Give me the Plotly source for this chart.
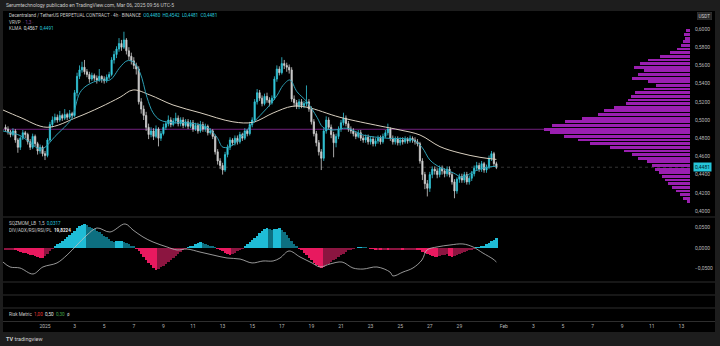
import plotly.graph_objects as go

W, H = 720, 346
def px(x): return x / W
def py(y): return 1 - y / H

# ---------------- data (4h candles, MANA/USDT perp) ----------------
first_open = 0.492
closes = [
    0.490, 0.487, 0.484, 0.488, 0.478, 0.470, 0.480, 0.486, 0.484, 0.476,
    0.470, 0.482, 0.474, 0.466, 0.470, 0.463, 0.461, 0.478, 0.495, 0.500,
    0.503, 0.500, 0.505, 0.502, 0.506, 0.503, 0.507, 0.505, 0.530, 0.548,
    0.555, 0.558, 0.553, 0.550, 0.545, 0.549, 0.546, 0.544, 0.548, 0.545,
    0.543, 0.547, 0.550, 0.566, 0.572, 0.578, 0.584, 0.580, 0.588, 0.576,
    0.570, 0.565, 0.560, 0.556, 0.520, 0.512, 0.505, 0.492, 0.484, 0.488,
    0.482, 0.490, 0.480, 0.485, 0.492, 0.496, 0.500, 0.495, 0.499, 0.502,
    0.496, 0.500, 0.494, 0.498, 0.493, 0.497, 0.490, 0.494, 0.488, 0.495,
    0.490, 0.493, 0.486, 0.488, 0.482, 0.465, 0.455, 0.450, 0.445, 0.462,
    0.470, 0.478, 0.475, 0.480, 0.476, 0.484, 0.480, 0.488, 0.485, 0.495,
    0.500, 0.520, 0.530, 0.524, 0.518, 0.526, 0.522, 0.519, 0.524, 0.545,
    0.556, 0.552, 0.562, 0.560, 0.558, 0.555, 0.523, 0.519, 0.515, 0.520,
    0.516, 0.518, 0.520, 0.512, 0.498, 0.485, 0.475, 0.465, 0.458, 0.488,
    0.500, 0.492, 0.484, 0.475, 0.482, 0.490, 0.497, 0.502, 0.496, 0.490,
    0.488, 0.485, 0.482, 0.486, 0.480, 0.478, 0.481, 0.476, 0.479, 0.474,
    0.477, 0.480, 0.476, 0.482, 0.486, 0.490, 0.480, 0.476, 0.479, 0.475,
    0.478, 0.476, 0.479, 0.477, 0.480, 0.478, 0.476, 0.474, 0.455, 0.440,
    0.430, 0.425, 0.440, 0.446, 0.444, 0.440, 0.447, 0.444, 0.441, 0.446,
    0.440, 0.432, 0.422, 0.435, 0.438, 0.434, 0.440, 0.432, 0.436, 0.441,
    0.447, 0.450, 0.446, 0.452, 0.445, 0.448, 0.458, 0.463, 0.452, 0.4481,
]
highs = [
    0.495, 0.493, 0.489, 0.491, 0.490, 0.480, 0.482, 0.489, 0.488, 0.486,
    0.479, 0.485, 0.484, 0.476, 0.473, 0.472, 0.466, 0.480, 0.498, 0.504,
    0.507, 0.506, 0.510, 0.507, 0.512, 0.508, 0.511, 0.509, 0.533, 0.552,
    0.560, 0.564, 0.566, 0.556, 0.553, 0.552, 0.551, 0.549, 0.556, 0.549,
    0.548, 0.550, 0.553, 0.569, 0.576, 0.581, 0.590, 0.588, 0.597, 0.590,
    0.580, 0.574, 0.569, 0.563, 0.559, 0.524, 0.516, 0.509, 0.496, 0.492,
    0.491, 0.494, 0.492, 0.488, 0.496, 0.499, 0.505, 0.503, 0.502, 0.508,
    0.505, 0.503, 0.503, 0.501, 0.501, 0.500, 0.500, 0.497, 0.497, 0.499,
    0.498, 0.496, 0.495, 0.491, 0.490, 0.484, 0.468, 0.458, 0.453, 0.465,
    0.473, 0.481, 0.480, 0.483, 0.483, 0.487, 0.486, 0.491, 0.490, 0.498,
    0.503, 0.523, 0.534, 0.533, 0.527, 0.529, 0.530, 0.525, 0.527, 0.548,
    0.560, 0.559, 0.569, 0.566, 0.563, 0.561, 0.558, 0.527, 0.522, 0.523,
    0.523, 0.521, 0.538, 0.523, 0.515, 0.501, 0.488, 0.478, 0.468, 0.491,
    0.504, 0.503, 0.495, 0.487, 0.485, 0.493, 0.500, 0.508, 0.505, 0.499,
    0.493, 0.491, 0.488, 0.489, 0.489, 0.483, 0.484, 0.484, 0.482, 0.482,
    0.480, 0.483, 0.483, 0.485, 0.489, 0.496, 0.492, 0.483, 0.482, 0.482,
    0.481, 0.481, 0.482, 0.481, 0.483, 0.482, 0.481, 0.479, 0.476, 0.458,
    0.443, 0.434, 0.443, 0.449, 0.449, 0.447, 0.450, 0.450, 0.447, 0.449,
    0.449, 0.443, 0.435, 0.437, 0.441, 0.441, 0.443, 0.443, 0.439, 0.444,
    0.450, 0.454, 0.453, 0.455, 0.454, 0.451, 0.461, 0.466, 0.465, 0.4542,
]
lows = [
    0.487, 0.484, 0.481, 0.482, 0.475, 0.464, 0.467, 0.478, 0.480, 0.473,
    0.467, 0.468, 0.471, 0.462, 0.463, 0.460, 0.456, 0.459, 0.476, 0.492,
    0.497, 0.497, 0.498, 0.499, 0.500, 0.500, 0.501, 0.502, 0.503, 0.526,
    0.545, 0.552, 0.550, 0.547, 0.541, 0.543, 0.543, 0.540, 0.542, 0.541,
    0.540, 0.541, 0.545, 0.548, 0.562, 0.568, 0.575, 0.576, 0.578, 0.572,
    0.566, 0.561, 0.556, 0.550, 0.517, 0.507, 0.500, 0.488, 0.479, 0.481,
    0.478, 0.480, 0.471, 0.477, 0.483, 0.489, 0.493, 0.492, 0.493, 0.496,
    0.493, 0.493, 0.491, 0.492, 0.490, 0.491, 0.487, 0.488, 0.485, 0.486,
    0.487, 0.487, 0.483, 0.484, 0.479, 0.462, 0.451, 0.446, 0.440, 0.443,
    0.459, 0.467, 0.472, 0.472, 0.473, 0.474, 0.477, 0.478, 0.482, 0.483,
    0.492, 0.497, 0.517, 0.521, 0.515, 0.516, 0.519, 0.515, 0.517, 0.522,
    0.542, 0.549, 0.550, 0.556, 0.553, 0.551, 0.520, 0.515, 0.512, 0.512,
    0.513, 0.513, 0.515, 0.509, 0.495, 0.482, 0.471, 0.461, 0.445, 0.455,
    0.485, 0.489, 0.480, 0.459, 0.470, 0.479, 0.487, 0.494, 0.493, 0.487,
    0.485, 0.482, 0.479, 0.480, 0.477, 0.475, 0.475, 0.473, 0.473, 0.471,
    0.471, 0.474, 0.473, 0.474, 0.480, 0.483, 0.477, 0.473, 0.473, 0.472,
    0.472, 0.473, 0.474, 0.474, 0.475, 0.475, 0.473, 0.471, 0.452, 0.434,
    0.424, 0.416, 0.421, 0.436, 0.440, 0.436, 0.437, 0.440, 0.437, 0.438,
    0.437, 0.429, 0.414, 0.419, 0.431, 0.431, 0.431, 0.429, 0.429, 0.433,
    0.438, 0.444, 0.443, 0.443, 0.442, 0.442, 0.446, 0.455, 0.449, 0.446,
]
assert len(closes) == len(highs) == len(lows) == 200
opens = [first_open] + closes[:-1]
highs = [max(h, o, c) for h, o, c in zip(highs, opens, closes)]
lows = [min(l, o, c) for l, o, c in zip(lows, opens, closes)]
# time in days since 2025-01-01 00:00 (candle 16 opens Jan 1)
t = [(i - 16) / 6 for i in range(len(closes))]

# moving averages (KLMA fast / slow)
ma_fast_t = [-2.84, -2.36, -1.69, -0.34, 0.0, 0.68, 1.49, 1.82, 2.36, 2.84, 3.72, 4.39, 5.07,
             5.54, 5.95, 6.42, 6.89, 7.30, 7.77, 8.65, 9.59, 10.95, 11.62, 12.03, 12.70, 13.18,
             14.05, 15.0, 15.68, 16.08, 16.55, 17.03, 17.70, 18.38, 18.78, 19.46, 20.41, 21.49,
             23.11, 24.86, 25.47, 26.01, 26.69, 27.57, 28.24, 28.92, 29.86, 30.5]
ma_fast_v = [0.488, 0.486, 0.483, 0.468, 0.470, 0.482, 0.495, 0.502, 0.530, 0.538, 0.544, 0.544,
             0.558, 0.565, 0.564, 0.552, 0.525, 0.508, 0.500, 0.497, 0.497, 0.492, 0.481, 0.470,
             0.4725, 0.480, 0.4967, 0.513, 0.527, 0.538, 0.544, 0.531, 0.520, 0.503, 0.492, 0.489,
             0.491, 0.4835, 0.480, 0.478, 0.470, 0.456, 0.448, 0.442, 0.437, 0.443, 0.448, 0.4491]
ma_slow_t = [-2.84, -1.69, 0.14, 2.16, 3.72, 5.07, 5.95, 7.09, 8.65, 10.47, 12.70, 14.05, 15.41,
             16.69, 17.70, 19.93, 22.64, 23.99, 25.34, 26.69, 28.04, 29.39, 30.5]
ma_slow_v = [0.511, 0.503, 0.492, 0.503, 0.514, 0.525, 0.533, 0.5275, 0.5165, 0.508, 0.498,
             0.4975, 0.5077, 0.515, 0.514, 0.503, 0.4934, 0.489, 0.4835, 0.4707, 0.4637, 0.459, 0.4567]

# visible range volume profile (price bin centre, relative volume)
vp_price = [0.598, 0.594, 0.590, 0.586, 0.582, 0.578, 0.574, 0.570, 0.566, 0.562, 0.558, 0.554,
            0.550, 0.546, 0.542, 0.538, 0.534, 0.530, 0.526, 0.522, 0.518, 0.514, 0.510, 0.506,
            0.502, 0.498, 0.494, 0.490, 0.486, 0.482, 0.478, 0.474, 0.470, 0.466, 0.462, 0.458,
            0.454, 0.450, 0.446, 0.442, 0.438, 0.434, 0.430, 0.426, 0.422, 0.418, 0.414, 0.410]
vp_volume = [4, 6, 5, 7, 9, 13, 20, 30, 42, 50, 56, 46, 52, 58, 42, 34, 46, 55, 59, 62, 64, 76,
             86, 92, 108, 125, 138, 146, 140, 126, 112, 100, 80, 66, 58, 52, 43, 38, 35, 31, 28,
             25, 22, 18, 14, 10, 7, 3]
poc_price = 0.4898
last_price = 0.4481

# squeeze momentum histogram (per candle)
sqz = [
    -0.006, -0.005, -0.004, -0.004, -0.006, -0.008, -0.010, -0.012, -0.013, -0.015,
    -0.017, -0.018, -0.020, -0.022, -0.024, -0.025, -0.020, -0.014, -0.007, -0.001,
    0.004, 0.009, 0.013, 0.017, 0.021, 0.026, 0.031, 0.036, 0.042, 0.048,
    0.053, 0.056, 0.058, 0.055, 0.052, 0.049, 0.046, 0.042, 0.038, 0.034,
    0.030, 0.026, 0.022, 0.018, 0.015, 0.016, 0.017, 0.018, 0.015, 0.012,
    0.009, 0.006, 0.003, -0.002, -0.008, -0.015, -0.022, -0.029, -0.036, -0.042,
    -0.048, -0.054, -0.051, -0.047, -0.043, -0.039, -0.034, -0.029, -0.024, -0.019,
    -0.014, -0.009, -0.005, -0.002, 0.001, 0.003, 0.006, 0.009, 0.012, 0.014,
    0.012, 0.010, 0.008, 0.006, 0.004, 0.001, -0.001, -0.004, -0.008, -0.012,
    -0.015, -0.017, -0.014, -0.011, -0.007, -0.004, -0.001, 0.004, 0.009, 0.014,
    0.019, 0.024, 0.030, 0.036, 0.042, 0.047, 0.050, 0.047, 0.045, 0.046,
    0.047, 0.048, 0.044, 0.038, 0.031, 0.024, 0.017, 0.010, 0.004, -0.001,
    -0.006, -0.012, -0.018, -0.024, -0.030, -0.036, -0.042, -0.046, -0.049, -0.046,
    -0.042, -0.038, -0.034, -0.030, -0.026, -0.022, -0.018, -0.014, -0.010, -0.006,
    -0.003, -0.001, 0.000, 0.001, 0.002, 0.002, 0.001, 0.000, -0.001, -0.002,
    -0.003, -0.003, -0.004, -0.004, -0.004, -0.005, -0.004, -0.004, -0.004, -0.004,
    -0.004, -0.005, -0.004, -0.004, -0.004, -0.003, -0.003, -0.004, -0.006, -0.009,
    -0.012, -0.015, -0.018, -0.020, -0.021, -0.022, -0.020, -0.018, -0.016, -0.015,
    -0.019, -0.022, -0.020, -0.017, -0.014, -0.011, -0.009, -0.007, -0.005, -0.003,
    -0.001, 0.001, 0.002, 0.004, 0.006, 0.009, 0.012, 0.016, 0.020, 0.024,
]
assert len(sqz) == 200

# DIV/ADX line
adx_t = [-2.84, -2.36, -1.69, -0.81, -0.14, 0.81, 1.49, 2.16, 2.84, 3.51, 4.39, 5.41, 5.95, 6.62,
         7.30, 8.24, 8.92, 9.59, 10.47, 11.35, 12.30, 13.18, 13.99, 14.73, 15.41, 15.88, 16.49,
         17.23, 18.04, 18.58, 19.26, 20.07, 20.81, 21.49, 22.43, 23.31, 23.51, 24.19, 24.86,
         25.47, 25.81, 26.49, 27.36, 28.24, 28.92, 29.59, 30.27, 30.5]
adx_v = [19.8, 16.0, 15.2, 10.6, 16.0, 19.1, 25.2, 32.9, 40.6, 46.0, 42.9, 49.1, 44.4, 39.1, 35.2,
         31.4, 29.1, 29.8, 27.5, 25.2, 22.9, 22.1, 19.1, 20.6, 20.6, 22.9, 28.3, 23.7, 19.1, 16.0,
         18.3, 19.8, 15.2, 14.4, 16.0, 12.1, 9.1, 12.1, 15.2, 21.4, 29.1, 31.4, 32.9, 33.7, 31.4,
         26.7, 22.1, 19.82]

date_tickvals = [0, 2, 4, 6, 8, 10, 12, 14, 16, 18, 20, 22, 24, 26, 28, 31, 33, 35, 37, 39, 41, 43]
date_ticktext = ["2025", "3", "5", "7", "9", "11", "13", "15", "17", "19", "21", "23", "25", "27",
                 "29", "Feb", "3", "5", "7", "9", "11", "13"]
price_ticks = [0.40, 0.42, 0.44, 0.46, 0.48, 0.50, 0.52, 0.54, 0.56, 0.58, 0.60]
sqz_ticks = [-0.05, 0.0, 0.05]

# ---------------- styling ----------------
UP = "#33c8da"
DOWN = "#cfcfcf"
FAST = "#2d9fb4"
SLOW = "#d8cfbf"
VP = "#9a1fb0"
TXT = "#b8b8b8"
FONT = "Roboto"

sqz_colors = []
for i, v in enumerate(sqz):
    prev = sqz[i - 1] if i > 0 else v
    if v >= 0:
        sqz_colors.append("#1fbcd6" if v > prev else "#0d6f80")
    else:
        sqz_colors.append("#e8195f" if v < prev else "#8b1540")

fig = go.Figure()

# volume profile (own x axis, growing leftwards from the price scale)
fig.add_trace(go.Bar(x=vp_volume, y=vp_price, orientation="h", base=0, width=0.0031,
                     marker=dict(color=VP, line=dict(width=0)), xaxis="x2", yaxis="y",
                     hoverinfo="skip"))
fig.add_trace(go.Candlestick(x=t, open=opens, high=highs, low=lows, close=closes,
                             increasing=dict(line=dict(color=UP, width=0.8), fillcolor=UP),
                             decreasing=dict(line=dict(color=DOWN, width=0.8), fillcolor=DOWN),
                             whiskerwidth=0, xaxis="x", yaxis="y", hoverinfo="skip"))
fig.add_trace(go.Scatter(x=ma_slow_t, y=ma_slow_v, mode="lines",
                         line=dict(color=SLOW, width=1, shape="spline"), xaxis="x", yaxis="y"))
fig.add_trace(go.Scatter(x=ma_fast_t, y=ma_fast_v, mode="lines",
                         line=dict(color=FAST, width=1, shape="spline"), xaxis="x", yaxis="y"))
# squeeze momentum
fig.add_trace(go.Bar(x=t, y=sqz, width=1 / 6, marker=dict(color=sqz_colors, line=dict(width=0)),
                     xaxis="x", yaxis="y2", hoverinfo="skip"))
fig.add_trace(go.Scatter(x=adx_t, y=adx_v, mode="lines",
                         line=dict(color="#bdbdbd", width=0.8, shape="spline"),
                         xaxis="x", yaxis="y3"))

xr = [(3 - 45) / 14.8, (690 - 45) / 14.8]
xdom = [px(3), px(690)]
fig.update_layout(
    width=W, height=H, margin=dict(l=0, r=0, t=0, b=0, autoexpand=False),
    paper_bgcolor="#1d1d1d", plot_bgcolor="rgba(0,0,0,0)",
    separators=",.", showlegend=False, bargap=0, barmode="overlay",
    font=dict(family=FONT, size=5, color=TXT),
    xaxis=dict(domain=xdom, range=xr, anchor="free", position=py(321.5), showgrid=False,
               zeroline=False, showline=False, ticks="", tickvals=date_tickvals,
               ticktext=date_ticktext, tickfont=dict(size=5, color=TXT), automargin=False,
               rangeslider=dict(visible=False), fixedrange=True),
    xaxis2=dict(domain=xdom, range=[687, 0], overlaying="x", anchor="y", visible=False,
                automargin=False),
    yaxis=dict(domain=[py(217), py(12)], range=[0.39341, 0.61868], anchor="x", side="right",
               showgrid=False, zeroline=False, ticks="", tickvals=price_ticks, automargin=False,
               tickformat=".4f", tickfont=dict(size=5, color=TXT), ticklabelstandoff=4),
    yaxis2=dict(domain=[py(282), py(217)], range=[-0.0829, 0.0756], anchor="x", side="right",
                showgrid=False, zeroline=False, ticks="", tickvals=sqz_ticks, tickformat=".4f",
                tickfont=dict(size=5, color=TXT), ticklabelstandoff=4, automargin=False),
    yaxis3=dict(domain=[py(282), py(217)], range=[4.44, 54.44], overlaying="y2", anchor="x",
                visible=False, automargin=False),
)

shapes = [
    # chart canvas
    dict(type="rect", xref="paper", yref="paper", x0=px(3), x1=px(715), y0=py(332), y1=py(11),
         fillcolor="#000000", line=dict(width=0), layer="below"),
    # volume profile POC and last price line
    dict(type="line", xref="paper", yref="y", x0=px(3), x1=px(690), y0=poc_price, y1=poc_price,
         line=dict(color="#8e2a9e", width=0.8), layer="below"),
    dict(type="line", xref="paper", yref="y", x0=px(3), x1=px(690), y0=last_price, y1=last_price,
         line=dict(color="#4a4a4a", width=0.7, dash="dot"), layer="below"),
]
for yy in [217, 282, 295, 308, 321.5]:
    shapes.append(dict(type="line", xref="paper", yref="paper", x0=px(3), x1=px(715),
                       y0=py(yy), y1=py(yy), line=dict(color="#2e2e2e", width=1), layer="above"))
fig.update_layout(shapes=shapes)

def note(x, y, text, size=5, color=TXT, xanchor="left", **kw):
    fig.add_annotation(x=px(x), y=py(y), xref="paper", yref="paper", text=text, showarrow=False,
                       xanchor=xanchor, yanchor="middle", font=dict(size=size, color=color,
                                                                    family=FONT), **kw)

CY = "#26c6da"
note(4, 5, "Serumtechnology publicado en TradingView.com, Mar 06, 2025 09:56 UTC-5", 5, "#c8c8c8")
note(7, 16, "Decentraland / TetherUS PERPETUAL CONTRACT · 4h · BINANCE  "
     f"<span style='color:{CY}'>O0,4480  H0,4542  L0,4481  C0,4481</span>", 4.6, "#c8c8c8")
note(7, 22.5, "VRVP  <span style='color:#8e4a9e'>· 1,3 ·</span>", 4.6, "#c8c8c8")
note(7, 29, f"KLMA  <span style='color:#e0e0e0'>0,4567</span>  <span style='color:{CY}'>0,4491</span>",
     4.6, "#c8c8c8")
note(7, 223, f"SQZMOM_LB  1,5  <span style='color:{CY}'>0,0317</span>", 4.6, "#c8c8c8")
note(7, 230.5, "DIV/ADX/RSI/RSI/PL  <b><span style='color:#e8e8e8'>19,8224</span></b>", 4.6,
     "#c8c8c8")
note(7, 314, "Risk Metric  <span style='color:#e53935'>1,00</span>  "
     "<span style='color:#e8e8e8'>0,50</span>  <span style='color:#43a047'>0,30</span>  ø",
     4.6, "#c8c8c8")
note(4, 339, "<b>TV</b> tradingview", 5.5, "#d0d0d0")
note(704, 16, "USDT", 4.6, "#d0d0d0", xanchor="center", bgcolor="#262626", bordercolor="#3a3a3a",
     borderwidth=0.5, borderpad=1)
fig.add_annotation(x=px(702), y=last_price, xref="paper", yref="y", text="0,4481", showarrow=False,
                   xanchor="center", yanchor="middle", bgcolor=CY, borderpad=1,
                   font=dict(size=5, color="#002228", family=FONT))

fig.write_html("out.html", include_plotlyjs=True, config={"displayModeBar": False})
